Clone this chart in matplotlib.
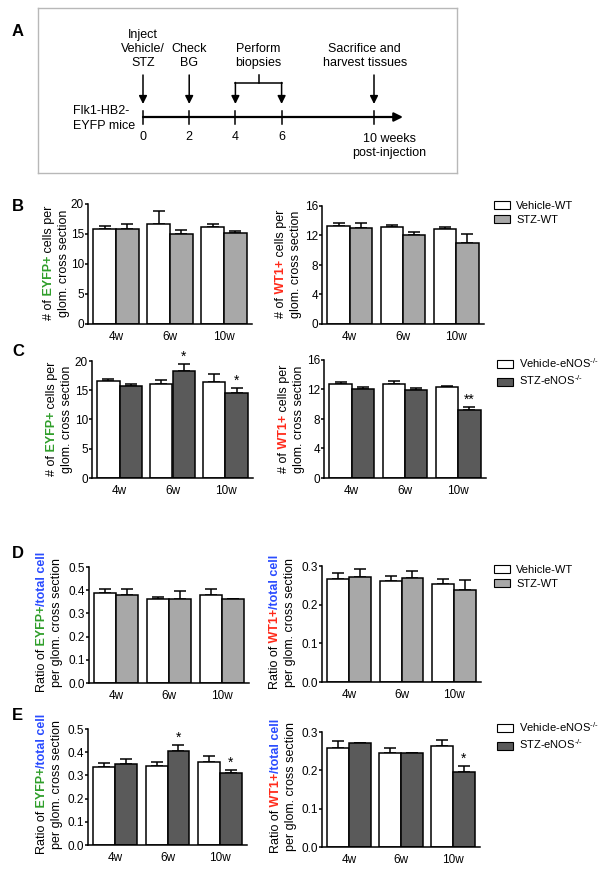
import numpy as np
import matplotlib
matplotlib.use('Agg')
import matplotlib.pyplot as plt
from matplotlib.patches import Patch
from matplotlib.ticker import FormatStrFormatter

plt.rcParams['font.family'] = ['Liberation Sans', 'DejaVu Sans']
plt.rcParams['mathtext.fontset'] = 'custom'
plt.rcParams['mathtext.rm'] = 'Liberation Sans'
plt.rcParams['mathtext.it'] = 'Liberation Sans:italic'

W, H = 604, 871

# ---- data ----
weeks = ['4w', '6w', '10w']

# timeline (panel A)
timeline_weeks = [0, 2, 4, 6, 10]
timeline_labels = ['0', '2', '4', '6']
event_labels = ['Inject\nVehicle/\nSTZ', 'Check\nBG', 'Perform\nbiopsies', 'Sacrifice and\nharvest tissues']
event_text_x = [0, 2, 5, 9.6]
arrow_weeks = [0, 2, 10]
biopsy_weeks = [4, 6]

# B: WT mice, cell counts
b_eyfp_veh = [15.8, 16.7, 16.2]
b_eyfp_veh_sem = [0.6, 2.2, 0.5]
b_eyfp_stz = [15.9, 15.0, 15.2]
b_eyfp_stz_sem = [0.7, 0.7, 0.3]
b_wt1_veh = [13.25, 13.2, 12.85]
b_wt1_veh_sem = [0.4, 0.2, 0.35]
b_wt1_stz = [13.0, 12.0, 11.05]
b_wt1_stz_sem = [0.7, 0.5, 1.2]

# C: eNOS-/- mice, cell counts
c_eyfp_veh = [16.6, 16.15, 16.4]
c_eyfp_veh_sem = [0.3, 0.65, 1.45]
c_eyfp_stz = [15.7, 18.35, 14.6]
c_eyfp_stz_sem = [0.4, 1.15, 0.8]
c_wt1_veh = [12.7, 12.8, 12.3]
c_wt1_veh_sem = [0.37, 0.36, 0.2]
c_wt1_stz = [12.08, 11.94, 9.24]
c_wt1_stz_sem = [0.22, 0.26, 0.36]

# D: WT mice, ratios
d_eyfp_veh = [0.389, 0.364, 0.379]
d_eyfp_veh_sem = [0.017, 0.007, 0.028]
d_eyfp_stz = [0.380, 0.364, 0.360]
d_eyfp_stz_sem = [0.024, 0.033, 0.003]
d_wt1_veh = [0.266, 0.260, 0.253]
d_wt1_veh_sem = [0.016, 0.015, 0.014]
d_wt1_stz = [0.272, 0.269, 0.239]
d_wt1_stz_sem = [0.021, 0.018, 0.026]

# E: eNOS-/- mice, ratios
e_eyfp_veh = [0.338, 0.341, 0.356]
e_eyfp_veh_sem = [0.017, 0.018, 0.026]
e_eyfp_stz = [0.348, 0.407, 0.312]
e_eyfp_stz_sem = [0.024, 0.025, 0.011]
e_wt1_veh = [0.258, 0.244, 0.264]
e_wt1_veh_sem = [0.019, 0.015, 0.016]
e_wt1_stz = [0.271, 0.2455, 0.195]
e_wt1_stz_sem = [0.001, 0.001, 0.016]

LIGHT = '#a8a8a8'
DARK = '#5a5a5a'
GREEN = '#2f9e2a'
RED = '#ff2a1a'
BLUE = '#2a4cff'

fig = plt.figure(figsize=(W / 100, H / 100), dpi=100)


def add_ax(x0, y0, x1, y1):
    return fig.add_axes([x0 / W, 1 - y1 / H, (x1 - x0) / W, (y1 - y0) / H])


def bar_panel(ax, veh, veh_sem, stz, stz_sem, color, ymax, step, fmt, stars=None):
    x = np.arange(len(weeks))
    w = 0.42
    ax.bar(x - w / 2, veh, w, color='white', edgecolor='black', lw=1.1, zorder=2)
    ax.bar(x + w / 2, stz, w, color=color, edgecolor='black', lw=1.1, zorder=2)
    for xs, m, s in [(x - w / 2, veh, veh_sem), (x + w / 2, stz, stz_sem)]:
        ax.errorbar(xs, m, yerr=[np.zeros(len(m)), s], fmt='none', ecolor='black',
                    elinewidth=1.1, capsize=4, capthick=1.1, zorder=1)
    if stars:
        for i, txt in stars:
            ax.annotate(txt, (i + w / 2, stz[i] + stz_sem[i]), xytext=(0, 0),
                        textcoords='offset points', ha='center', va='bottom', fontsize=10)
    ax.set_xlim(-0.52, 2.52)
    ax.set_ylim(0, ymax)
    ax.set_yticks(np.arange(0, ymax + step / 2, step))
    ax.yaxis.set_major_formatter(FormatStrFormatter(fmt))
    ax.set_xticks(x)
    ax.set_xticklabels(weeks)
    for sp in ['top', 'right']:
        ax.spines[sp].set_visible(False)
    for sp in ['left', 'bottom']:
        ax.spines[sp].set_linewidth(1.1)
    ax.tick_params(axis='y', direction='out', length=2.5, width=1.1, labelsize=8.5, pad=0.5)
    ax.tick_params(axis='x', length=0, labelsize=8.5, pad=5)


def vlabel(x, yc, pieces, fs=9):
    r = fig.canvas.get_renderer()
    ts = [fig.text(x / W, 0, s, rotation=90, ha='center', va='bottom', color=c,
                   fontweight=wt, fontsize=fs) for s, c, wt in pieces]
    hs = [t.get_window_extent(r).height for t in ts]
    y = (H - yc) - sum(hs) / 2
    for t, h in zip(ts, hs):
        t.set_y(y / H)
        y += h


def legend(x, y, color, labels):
    handles = [Patch(facecolor='white', edgecolor='black', lw=0.8),
               Patch(facecolor=color, edgecolor='black', lw=0.8)]
    fig.legend(handles, labels, loc='upper left', bbox_to_anchor=(x / W, 1 - y / H),
               frameon=False, fontsize=8, handlelength=1.4, handleheight=0.75,
               handletextpad=0.6, labelspacing=0.35, borderpad=0, borderaxespad=0)


# ---- panel A: timeline ----
axa = add_ax(38, 8, 457, 173)
px_per_week = 23.1
axa.set_xlim((38 - 143) / px_per_week, (457 - 143) / px_per_week)
axa.set_ylim(173, 8)
axa.set_xticks([])
axa.set_yticks([])
for sp in axa.spines.values():
    sp.set_color('#b8b8b8')
    sp.set_linewidth(1.0)

line_y = 117
end_week = (403 - 143) / px_per_week
axa.annotate('', xy=(end_week, line_y), xytext=(0, line_y),
             arrowprops=dict(arrowstyle='-|>', color='black', lw=1.6,
                             mutation_scale=13, shrinkA=0, shrinkB=0))
for wk in timeline_weeks:
    axa.plot([wk, wk], [111, 124], color='black', lw=1.1)
for wk, lab in zip(timeline_weeks[:4], timeline_labels):
    axa.text(wk, 137, lab, ha='center', va='center', fontsize=9)
axa.text(10.65, 146, '10 weeks\npost-injection', ha='center', va='center',
         fontsize=9, linespacing=1.25)
axa.text(-0.35, 118.5, 'Flk1-HB2-\nEYFP mice', ha='right', va='center',
         fontsize=9, linespacing=1.25, multialignment='left')

arrow_kw = dict(arrowstyle='-|>', color='black', lw=1.1, mutation_scale=12, shrinkA=0, shrinkB=0)
for wk in arrow_weeks:
    axa.annotate('', xy=(wk, 104), xytext=(wk, 75), arrowprops=arrow_kw)
axa.plot([biopsy_weeks[0], biopsy_weeks[1]], [83, 83], color='black', lw=1.1)
axa.plot([np.mean(biopsy_weeks)] * 2, [75, 83], color='black', lw=1.1)
for wk in biopsy_weeks:
    axa.annotate('', xy=(wk, 104), xytext=(wk, 82.5), arrowprops=arrow_kw)
for xe, lab in zip(event_text_x, event_labels):
    axa.text(xe, 69, lab, ha='center', va='bottom', fontsize=9, linespacing=1.2,
             multialignment='center')

# ---- bar panels ----
axb1 = add_ax(88, 204, 252, 324)
bar_panel(axb1, b_eyfp_veh, b_eyfp_veh_sem, b_eyfp_stz, b_eyfp_stz_sem, LIGHT, 20, 5, '%d')
axb2 = add_ax(322, 206, 484, 324)
bar_panel(axb2, b_wt1_veh, b_wt1_veh_sem, b_wt1_stz, b_wt1_stz_sem, LIGHT, 16, 4, '%d')

axc1 = add_ax(92, 361, 253, 478)
bar_panel(axc1, c_eyfp_veh, c_eyfp_veh_sem, c_eyfp_stz, c_eyfp_stz_sem, DARK, 20, 5, '%d',
          stars=[(1, '*'), (2, '*')])
axc2 = add_ax(324, 360, 486, 478)
bar_panel(axc2, c_wt1_veh, c_wt1_veh_sem, c_wt1_stz, c_wt1_stz_sem, DARK, 16, 4, '%d',
          stars=[(2, '**')])

axd1 = add_ax(89, 567, 249, 683)
bar_panel(axd1, d_eyfp_veh, d_eyfp_veh_sem, d_eyfp_stz, d_eyfp_stz_sem, LIGHT, 0.5, 0.1, '%.1f')
axd2 = add_ax(322, 566, 481, 682)
bar_panel(axd2, d_wt1_veh, d_wt1_veh_sem, d_wt1_stz, d_wt1_stz_sem, LIGHT, 0.3, 0.1, '%.1f')

axe1 = add_ax(88, 729, 247, 845)
bar_panel(axe1, e_eyfp_veh, e_eyfp_veh_sem, e_eyfp_stz, e_eyfp_stz_sem, DARK, 0.5, 0.1, '%.1f',
          stars=[(1, '*'), (2, '*')])
axe2 = add_ax(322, 732, 480, 847)
bar_panel(axe2, e_wt1_veh, e_wt1_veh_sem, e_wt1_stz, e_wt1_stz_sem, DARK, 0.3, 0.1, '%.1f',
          stars=[(2, '*')])

# ---- y labels ----
eyfp_count = [('# of', 'black', 'normal'), (' EYFP+', GREEN, 'bold'), (' cells per', 'black', 'normal')]
wt1_count = [('# of', 'black', 'normal'), (' WT1+', RED, 'bold'), (' cells per', 'black', 'normal')]
glom = [('glom. cross section', 'black', 'normal')]
eyfp_ratio = [('Ratio of', 'black', 'normal'), (' EYFP+', GREEN, 'bold'), ('/total cell', BLUE, 'bold')]
wt1_ratio = [('Ratio of', 'black', 'normal'), (' WT1+', RED, 'bold'), ('/total cell', BLUE, 'bold')]
per_glom = [('per glom. cross section', 'black', 'normal')]

vlabel(49, 263, eyfp_count)
vlabel(64, 263, glom)
vlabel(281, 264, wt1_count)
vlabel(296, 264, glom)
vlabel(52, 419, eyfp_count)
vlabel(67, 419, glom)
vlabel(284, 419, wt1_count)
vlabel(299, 419, glom)
vlabel(42, 622, eyfp_ratio)
vlabel(57, 622, per_glom)
vlabel(275, 622, wt1_ratio)
vlabel(290, 622, per_glom)
vlabel(42, 784, eyfp_ratio)
vlabel(57, 784, per_glom)
vlabel(276, 786, wt1_ratio)
vlabel(291, 786, per_glom)

# ---- legends ----
wt_labels = ['Vehicle-WT', 'STZ-WT']
enos_labels = [r'Vehicle-eNOS$^{\text{-/-}}$', r'STZ-eNOS$^{\text{-/-}}$']
legend(494, 201, LIGHT, wt_labels)
legend(497, 356, DARK, enos_labels)
legend(494, 565, LIGHT, wt_labels)
legend(497, 720, DARK, enos_labels)

# ---- panel letters ----
for lab, y in [('A', 32), ('B', 206), ('C', 352), ('D', 553), ('E', 715)]:
    fig.text(12 / W, 1 - y / H, lab, fontsize=12, fontweight='bold', ha='left', va='center')

fig.savefig('out.png', dpi=100)
